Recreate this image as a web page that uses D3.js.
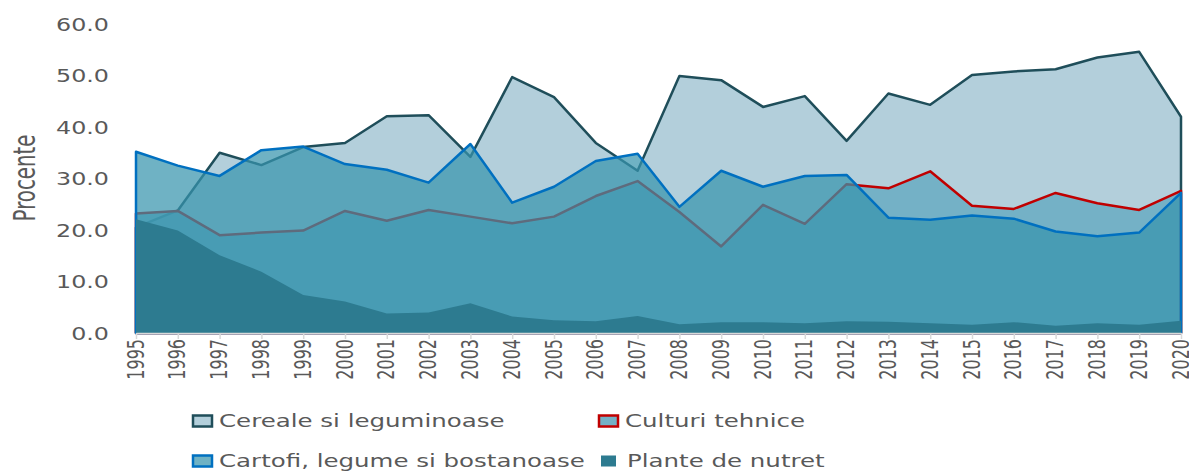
<!DOCTYPE html>
<html>
<head>
<meta charset="utf-8">
<script src="https://cdn.jsdelivr.net/npm/d3@7/dist/d3.min.js"></script>
<style>
  body { margin: 0; background: #fff; }
  svg { display: block; }
</style>
</head>
<body>
<svg width="1189" height="471"></svg>
<script>
var years = [1995, 1996, 1997, 1998, 1999, 2000, 2001, 2002, 2003, 2004, 2005, 2006, 2007,
             2008, 2009, 2010, 2011, 2012, 2013, 2014, 2015, 2016, 2017, 2018, 2019, 2020];

var cereale = [20.5, 23.8, 35.0, 32.6, 36.1, 36.9, 42.1, 42.3, 34.2, 49.7, 45.8, 36.9, 31.5,
               49.9, 49.1, 43.9, 46.0, 37.3, 46.5, 44.3, 50.1, 50.8, 51.2, 53.5, 54.6, 42.0];
var culturi = [23.2, 23.7, 19.0, 19.5, 19.9, 23.7, 21.8, 23.9, 22.6, 21.3, 22.6, 26.6, 29.5,
               23.5, 16.8, 24.9, 21.2, 28.9, 28.1, 31.4, 24.7, 24.1, 27.2, 25.2, 23.9, 27.6];
var cartofi = [35.2, 32.5, 30.5, 35.5, 36.2, 32.8, 31.7, 29.2, 36.7, 25.3, 28.4, 33.4, 34.8,
               24.5, 31.5, 28.4, 30.5, 30.7, 22.4, 22.0, 22.8, 22.2, 19.7, 18.8, 19.5, 27.2];
var plante = [22.1, 19.9, 15.1, 11.9, 7.4, 6.1, 3.8, 4.0, 5.8, 3.2, 2.5, 2.3, 3.3,
              1.7, 2.1, 2.1, 1.9, 2.3, 2.2, 1.9, 1.6, 2.1, 1.4, 1.9, 1.6, 2.4];

var yTicks = [0, 10, 20, 30, 40, 50, 60];

var svg = d3.select("svg");
var stretch = 1.4; // text in the picture is drawn wider than it is tall

var x = d3.scaleLinear().domain([1995, 2020]).range([136, 1181]);
var y = d3.scaleLinear().domain([0, 60]).range([333, 24]);

var series = [
  { name: "Cereale si leguminoase", values: cereale, fill: "#b3cfdb", opacity: 1, stroke: "#1f4e5a" },
  { name: "Culturi tehnice", values: culturi, fill: "#5fa7bf", opacity: 0.75, stroke: "#c00000" },
  { name: "Cartofi, legume si bostanoase", values: cartofi, fill: "#3794ad", opacity: 0.72, stroke: "#0070c0" },
  { name: "Plante de nutret", values: plante, fill: "#2d7b90", opacity: 1, stroke: "none" }
];

var area = d3.area()
  .x(function (d, i) { return x(years[i]); })
  .y0(y(0))
  .y1(function (d) { return y(d); });

var g = svg.append("g");

series.forEach(function (s) {
  g.append("path")
    .attr("d", area(s.values))
    .attr("fill", s.fill)
    .attr("fill-opacity", s.opacity)
    .attr("stroke", s.stroke)
    .attr("stroke-width", 2.5)
    .attr("stroke-linejoin", "round");
});

// x axis
var xAxis = svg.append("g")
  .attr("transform", "translate(0,333)")
  .call(d3.axisBottom(x).tickValues(years).tickFormat(d3.format("d")).tickSize(6).tickSizeOuter(0));

xAxis.select(".domain").attr("stroke", "#d9d9d9").attr("stroke-width", 1.5);
xAxis.selectAll(".tick line").attr("stroke", "#d9d9d9").attr("stroke-width", 1.5);
xAxis.selectAll(".tick text")
  .attr("x", 0)
  .attr("y", 0)
  .attr("dy", "0.36em")
  .attr("transform", "translate(-1,6) scale(" + stretch + ",1) rotate(-90)")
  .attr("text-anchor", "end")
  .attr("fill", "#595959")
  .attr("font-family", "DejaVu Sans, Verdana, sans-serif")
  .attr("font-size", "16px");

// y axis labels
var yAxis = svg.append("g")
  .attr("transform", "translate(109,0)")
  .call(d3.axisLeft(y).tickValues(yTicks).tickFormat(d3.format(".1f")).tickSize(0));

yAxis.select(".domain").remove();
yAxis.selectAll(".tick text")
  .attr("x", 0)
  .attr("dy", "0.36em")
  .attr("transform", "scale(" + stretch + ",1)")
  .attr("text-anchor", "end")
  .attr("fill", "#595959")
  .attr("font-family", "DejaVu Sans, Verdana, sans-serif")
  .attr("font-size", "17px");

svg.append("text")
  .attr("transform", "translate(24,178) scale(" + stretch + ",1) rotate(-90)")
  .attr("text-anchor", "middle")
  .attr("dy", "0.36em")
  .attr("fill", "#595959")
  .attr("font-family", "Liberation Sans Narrow, DejaVu Sans Condensed, sans-serif")
  .attr("font-size", "22px")
  .text("Procente");

// legend
var legendItems = [
  { label: "Cereale si leguminoase", fill: "#b3cfdb", stroke: "#1f4e5a", lx: 193, ly: 421 },
  { label: "Culturi tehnice", fill: "#74b1c6", stroke: "#c00000", lx: 599, ly: 421 },
  { label: "Cartofi, legume si bostanoase", fill: "#6fb2c4", stroke: "#0070c0", lx: 193, ly: 461 },
  { label: "Plante de nutret", fill: "#2d7b90", stroke: "none", lx: 601, ly: 461 }
];

var legend = svg.append("g");
legendItems.forEach(function (it) {
  var big = it.stroke !== "none";
  legend.append("rect")
    .attr("x", it.lx)
    .attr("y", it.ly - 5.5)
    .attr("width", big ? 19 : 15)
    .attr("height", 11)
    .attr("fill", it.fill)
    .attr("stroke", it.stroke)
    .attr("stroke-width", 2.5);
  legend.append("text")
    .attr("transform", "translate(" + (it.lx + 26) + "," + it.ly + ") scale(" + stretch + ",1)")
    .attr("dy", "0.36em")
    .attr("fill", "#595959")
    .attr("font-family", "DejaVu Sans, Verdana, sans-serif")
    .attr("font-size", "17.5px")
    .text(it.label);
});
</script>
</body>
</html>
